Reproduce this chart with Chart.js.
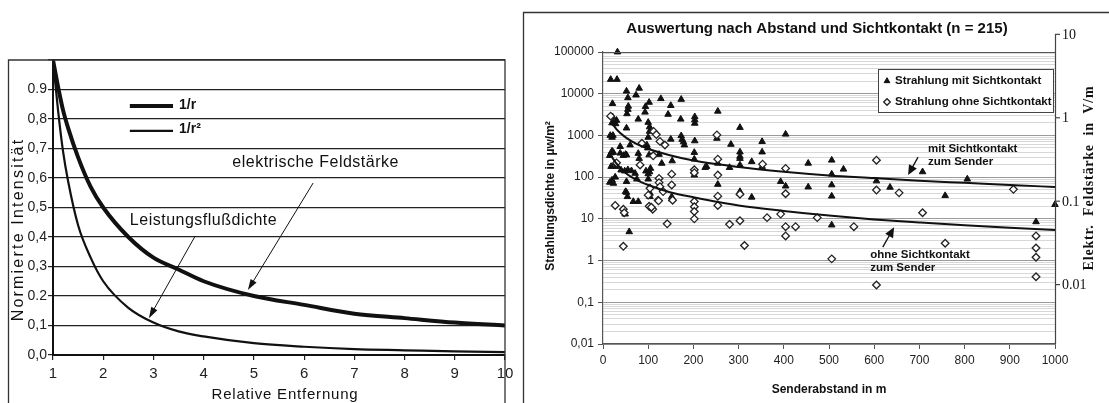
<!DOCTYPE html>
<html>
<head>
<meta charset="utf-8">
<script src="https://cdn.jsdelivr.net/npm/chart.js@4.4.1/dist/chart.umd.min.js"></script>
<style>
html, body { margin: 0; padding: 0; background: #fff; width: 1109px; height: 403px; overflow: hidden; }
canvas { position: absolute; top: 0; }
#left { left: 0; }
#right { left: 520px; }
</style>
</head>
<body>
<canvas id="left" width="520" height="403"></canvas>
<canvas id="right" width="589" height="403"></canvas>
<script>
// ---- linkes Diagramm: 1/r und 1/r² ----
const relDistance   = [1, 1.1, 1.2, 1.3, 1.5, 1.75, 2, 2.5, 3, 3.5, 4, 5, 6, 7, 8, 9, 10];
const fieldStrength = [1.0, 0.91, 0.83, 0.77, 0.67, 0.57, 0.5, 0.4, 0.33, 0.29, 0.25, 0.2, 0.17, 0.14, 0.125, 0.11, 0.1];
const powerDensity  = [1.0, 0.83, 0.69, 0.59, 0.44, 0.33, 0.25, 0.16, 0.11, 0.08, 0.063, 0.04, 0.028, 0.02, 0.016, 0.012, 0.01];
const leftXTicks  = [1, 2, 3, 4, 5, 6, 7, 8, 9, 10];
const leftYTicks  = [0, 0.1, 0.2, 0.3, 0.4, 0.5, 0.6, 0.7, 0.8, 0.9, 1.0];
const leftYLabels = ["0,0", "0,1", "0.2", "0,3", "0,4", "0,5", "0,6", "0,7", "0,8", "0.9", ""];

// ---- rechtes Diagramm: Messwerte nach Abstand ----
const mitDist = [32, 17, 31, 52, 80, 73, 55, 21, 56, 55, 53, 94, 102, 128, 173, 150, 144, 93, 78, 172,
  203, 203, 203, 21, 20, 24, 28, 52, 100, 103, 103, 22, 20, 100, 97, 99, 150, 173, 175, 178,
  180, 203, 60, 38, 23, 38, 52, 78, 80, 102, 124, 153, 202, 202, 229, 27, 29, 27, 23, 40,
  52, 63, 71, 105, 103, 130, 52, 54, 78, 104, 104, 152, 152, 202, 202, 49, 58, 254, 303, 252,
  283, 352, 404, 303, 352, 303, 303, 226, 254, 280, 303, 329, 352, 454, 506, 506, 506, 506, 254, 303,
  303, 329, 393, 404, 454, 506, 532, 605, 635, 707, 757, 806, 1000, 958, 15, 18, 20, 18, 15, 20,
  30, 45, 50, 48, 55, 50, 95, 100, 100, 75, 16, 67];
const mitValue = [100000, 22000, 22000, 11500, 13500, 9300, 8000, 5800, 5000, 4200, 3300, 4900, 6200, 7600, 7300, 5200, 3200, 3600, 2450, 2450,
  2800, 2350, 1950, 2800, 2000, 2000, 1900, 1500, 2050, 1600, 1250, 1000, 900, 900, 590, 500, 810, 980, 800, 700,
  590, 740, 590, 540, 390, 375, 340, 370, 280, 340, 350, 245, 390, 270, 180, 215, 180, 100, 71, 148,
  78, 142, 123, 162, 134, 214, 43, 34, 26, 41, 34, 34, 30, 134, 112, 13, 4.9, 3800, 1550, 850,
  610, 710, 1070, 400, 400, 315, 280, 170, 215, 170, 195, 235, 180, 215, 255, 118, 65, 35, 67, 45,
  41, 33, 78, 61, 58, 7.1, 155, 81, 57, 134, 36, 90, 22, 8.5, 330, 380, 420, 180, 75, 85,
  2300, 330, 350, 140, 150, 45, 140, 120, 90, 90, 1000, 26];

const ohneDist = [17, 112, 118, 137, 86, 252, 30, 82, 111, 124, 124, 126, 104, 100, 122, 133, 152, 152, 154, 202,
  202, 202, 202, 202, 202, 27, 45, 47, 102, 110, 142, 45, 254, 353, 404, 254, 254, 254, 303, 404,
  393, 280, 303, 363, 404, 426, 404, 474, 313, 506, 605, 605, 655, 707, 555, 908, 958, 958, 958, 958,
  757, 605, 123, 107, 126];
const ohneValue = [2900, 1250, 1050, 590, 650, 1030, 220, 196, 325, 93, 74, 59, 54, 37, 28, 45, 118, 65, 28, 150,
  128, 26, 19.5, 15, 10, 21, 17, 14, 20, 17, 7.6, 2.2, 270, 205, 162, 112, 35, 21, 39, 40,
  13, 7.4, 9, 10.7, 6.5, 6.5, 3.9, 10.7, 2.3, 1.1, 255, 49, 42, 14, 6.5, 51, 3.9, 2.0, 1.2, 0.41,
  2.6, 0.26, 27, 19, 720];

// Ausgleichskurven
const fitDist = [20, 30, 50, 75, 100, 150, 200, 300, 400, 500, 600, 700, 800, 900, 1000];
const fitMit  = [2000, 1400, 900, 620, 480, 330, 250, 175, 135, 110, 95, 82, 73, 65, 58];
const fitOhne = [300, 210, 125, 85, 65, 43, 33, 21, 15.5, 12, 9.7, 8.2, 7, 6.1, 5.4];

const distTicks     = [0, 100, 200, 300, 400, 500, 600, 700, 800, 900, 1000];
const distLabels    = ["0", "100", "200", "300", "400", "500", "600", "700", "800", "900", "1000"];
const densityTicks  = [0.01, 0.1, 1, 10, 100, 1000, 10000, 100000];
const densityLabels = ["0,01", "0,1", "1", "10", "100", "1000", "10000", "100000"];
const minorSteps    = [2, 3, 4, 5, 6, 7, 8, 9];
const fieldTicks    = [0.01, 0.1, 1, 10];
const fieldLabels   = ["0.01", "0.1", "1", "10"];
const Z0 = 377; // Feldwellenwiderstand, fuer die V/m-Achse

const SANS = '"Liberation Sans", Arial, sans-serif';
const SERIF = '"Liberation Serif", "Times New Roman", serif';

function arrow(ctx, x1, y1, x2, y2, head, half) {
    const a = Math.atan2(y2 - y1, x2 - x1);
    const c = Math.cos(a), s = Math.sin(a);
    ctx.beginPath();
    ctx.moveTo(x1, y1);
    ctx.lineTo(x2 - c * head * 0.6, y2 - s * head * 0.6);
    ctx.stroke();
    ctx.beginPath();
    ctx.moveTo(x2, y2);
    ctx.lineTo(x2 - head * c + half * s, y2 - head * s - half * c);
    ctx.lineTo(x2 - head * c - half * s, y2 - head * s + half * c);
    ctx.closePath();
    ctx.fill();
}

function labelFor(list, labels, v) {
    const i = list.findIndex(t => Math.abs(t - v) < 1e-9 * Math.max(1, Math.abs(t)));
    return i >= 0 ? labels[i] : "";
}

// ---------------- linkes Diagramm ----------------
const leftDecor = {
    id: "leftDecor",
    afterDraw(chart) {
        const { ctx, chartArea: a, scales: { x, y } } = chart;
        ctx.save();
        // Rahmen
        ctx.strokeStyle = "#333";
        ctx.lineWidth = 1.3;
        ctx.beginPath();
        ctx.moveTo(8.5, 410); ctx.lineTo(8.5, a.top); ctx.lineTo(a.right, a.top); ctx.lineTo(a.right, 410);
        ctx.stroke();

        // Legende
        ctx.strokeStyle = "#111";
        ctx.lineWidth = 4;
        ctx.beginPath(); ctx.moveTo(x.getPixelForValue(2.53), y.getPixelForValue(0.844)); ctx.lineTo(x.getPixelForValue(3.39), y.getPixelForValue(0.844)); ctx.stroke();
        ctx.lineWidth = 2.2;
        ctx.beginPath(); ctx.moveTo(x.getPixelForValue(2.53), y.getPixelForValue(0.760)); ctx.lineTo(x.getPixelForValue(3.39), y.getPixelForValue(0.760)); ctx.stroke();
        ctx.fillStyle = "#111";
        ctx.font = "bold 14px " + SANS;
        ctx.textBaseline = "middle";
        ctx.textAlign = "left";
        ctx.fillText("1/r", x.getPixelForValue(3.51), y.getPixelForValue(0.846));
        ctx.fillText("1/r²", x.getPixelForValue(3.51), y.getPixelForValue(0.765));

        // Beschriftungen mit Pfeilen
        ctx.font = "16px " + SANS;
        ctx.letterSpacing = "0.5px";
        ctx.fillText("elektrische Feldstärke", x.getPixelForValue(4.57), y.getPixelForValue(0.651));
        ctx.fillText("Leistungsflußdichte", x.getPixelForValue(2.53), y.getPixelForValue(0.454));
        ctx.letterSpacing = "0px";
        ctx.lineWidth = 1;
        arrow(ctx, x.getPixelForValue(6.18), y.getPixelForValue(0.583), x.getPixelForValue(4.88), y.getPixelForValue(0.22), 11, 3.5);
        arrow(ctx, x.getPixelForValue(3.83), y.getPixelForValue(0.403), x.getPixelForValue(2.91), y.getPixelForValue(0.125), 11, 3.5);

        // Achsentitel
        ctx.font = "15px " + SANS;
        ctx.letterSpacing = "0.8px";
        ctx.textAlign = "center";
        ctx.fillText("Relative Entfernung", (a.left + a.right) / 2 + 6, 395);
        ctx.save();
        ctx.translate(19, (a.top + a.bottom) / 2 + 22);
        ctx.rotate(-Math.PI / 2);
        ctx.font = "16px " + SANS;
        ctx.letterSpacing = "2.2px";
        ctx.fillText("Normierte Intensität", 0, 0);
        ctx.restore();
        ctx.restore();
    }
};

new Chart(document.getElementById("left"), {
    type: "line",
    data: {
        datasets: [
            {
                label: "1/r",
                data: relDistance.map((r, i) => ({ x: r, y: fieldStrength[i] })),
                borderColor: "#111",
                borderWidth: 4,
                pointRadius: 0,
                cubicInterpolationMode: "monotone"
            },
            {
                label: "1/r²",
                data: relDistance.map((r, i) => ({ x: r, y: powerDensity[i] })),
                borderColor: "#111",
                borderWidth: 2.2,
                pointRadius: 0,
                cubicInterpolationMode: "monotone"
            }
        ]
    },
    options: {
        responsive: false,
        animation: false,
        layout: { padding: { top: 60, right: 15, left: 0, bottom: 0 } },
        plugins: { legend: { display: false }, tooltip: { enabled: false } },
        scales: {
            x: {
                type: "linear",
                min: 1, max: 10,
                afterBuildTicks: s => { s.ticks = leftXTicks.map(v => ({ value: v })); },
                afterFit: s => { s.height = 48; },
                ticks: { color: "#222", font: { family: SANS, size: 15 }, padding: 5, maxRotation: 0, callback: v => String(v) },
                grid: { drawOnChartArea: false, tickLength: 5, color: "#222", lineWidth: 1.2 },
                border: { color: "#111", width: 2 }
            },
            y: {
                min: 0, max: 1,
                afterBuildTicks: s => { s.ticks = leftYTicks.map(v => ({ value: v })); },
                afterFit: s => { s.width = 53; },
                ticks: {
                    color: "#222", font: { family: SANS, size: 14 }, padding: 1,
                    callback: v => labelFor(leftYTicks, leftYLabels, v)
                },
                grid: { color: "#222", lineWidth: 1.2, tickLength: 5 },
                border: { color: "#111", width: 2 }
            }
        }
    },
    plugins: [leftDecor]
});

// ---------------- rechtes Diagramm ----------------
const majorSet = new Set(densityTicks);
const densityGrid = [];
densityTicks.forEach((d, i) => {
    densityGrid.push(d);
    if (i < densityTicks.length - 1) minorSteps.forEach(m => densityGrid.push(+(d * m).toPrecision(6)));
});

const rightDecor = {
    id: "rightDecor",
    afterDraw(chart) {
        const { ctx, chartArea: a, scales: { x, y, y2 } } = chart;
        ctx.save();
        // Rahmen
        ctx.strokeStyle = "#333";
        ctx.lineWidth = 1.3;
        ctx.beginPath();
        ctx.moveTo(3.5, 410); ctx.lineTo(3.5, 12.5); ctx.lineTo(600, 12.5);
        ctx.stroke();

        // obere Begrenzung der Zeichenflaeche
        ctx.strokeStyle = "#555";
        ctx.lineWidth = 1.2;
        ctx.beginPath(); ctx.moveTo(a.left, a.top + 0.5); ctx.lineTo(a.right, a.top + 0.5); ctx.stroke();

        // rechte Achse in V/m
        const yTop = y2.getPixelForValue(fieldTicks[fieldTicks.length - 1]);
        ctx.strokeStyle = "#444";
        ctx.beginPath(); ctx.moveTo(a.right + 0.5, yTop); ctx.lineTo(a.right + 0.5, a.bottom); ctx.stroke();
        ctx.fillStyle = "#111";
        ctx.font = "14px " + SERIF;
        ctx.textAlign = "left";
        ctx.textBaseline = "middle";
        fieldTicks.forEach((v, i) => {
            const py = y2.getPixelForValue(v);
            ctx.beginPath(); ctx.moveTo(a.right, py); ctx.lineTo(a.right + 5, py); ctx.stroke();
            ctx.fillText(fieldLabels[i], a.right + 7, py + 1);
        });

        // Titel
        ctx.font = "bold 15px " + SANS;
        ctx.textAlign = "center";
        ctx.fillText("Auswertung nach Abstand und Sichtkontakt (n = 215)", (a.left + a.right) / 2 - 12, 29);

        // Achsentitel
        ctx.font = "bold 12px " + SANS;
        ctx.fillText("Senderabstand in m", (a.left + a.right) / 2, 390);
        ctx.save();
        ctx.translate(31, 196);
        ctx.rotate(-Math.PI / 2);
        ctx.fillText("Strahlungsdichte in µw/m²", 0, 0);
        ctx.restore();
        ctx.save();
        ctx.translate(a.right + 34, 178);
        ctx.rotate(-Math.PI / 2);
        ctx.font = "bold 14px " + SERIF;
        ctx.letterSpacing = "0.8px";
        ctx.fillText("Elektr.  Feldstärke  in  V/m", 0, 0);
        ctx.restore();

        // Legende
        const lx = a.right - 177, ly = a.top + 17;
        ctx.fillStyle = "#fff";
        ctx.fillRect(lx, ly, 175, 43);
        ctx.strokeStyle = "#444";
        ctx.lineWidth = 1;
        ctx.strokeRect(lx + 0.5, ly + 0.5, 175, 43);
        ctx.font = "bold 11.5px " + SANS;
        ctx.textAlign = "left";
        const ds = chart.data.datasets;
        [0, 1].forEach(k => {
            const cy = ly + 12 + k * 21;
            ctx.fillStyle = ds[k].backgroundColor;
            ctx.strokeStyle = ds[k].borderColor;
            ctx.lineWidth = ds[k].borderWidth;
            Chart.helpers.drawPoint(ctx, { pointStyle: ds[k].pointStyle, radius: 3.3, rotation: 0, borderWidth: ds[k].borderWidth }, lx + 9, cy);
            ctx.fillStyle = "#111";
            ctx.fillText(ds[k].label, lx + 17, cy);
        });

        // Beschriftungen der Kurven
        ctx.fillStyle = "#111";
        ctx.strokeStyle = "#111";
        ctx.lineWidth = 1.3;
        ctx.fillText("mit Sichtkontakt", x.getPixelForValue(719), y.getPixelForValue(472));
        ctx.fillText("zum Sender", x.getPixelForValue(719), y.getPixelForValue(229));
        ctx.fillText("ohne Sichtkontakt", x.getPixelForValue(591), y.getPixelForValue(1.36));
        ctx.fillText("zum Sender", x.getPixelForValue(591), y.getPixelForValue(0.66));
        arrow(ctx, x.getPixelForValue(697), y.getPixelForValue(302), x.getPixelForValue(675), y.getPixelForValue(112), 10, 4.5);
        arrow(ctx, x.getPixelForValue(619), y.getPixelForValue(2.1), x.getPixelForValue(644), y.getPixelForValue(6.3), 10, 4.5);
        ctx.restore();
    }
};

new Chart(document.getElementById("right"), {
    type: "scatter",
    data: {
        datasets: [
            {
                label: "Strahlung mit Sichtkontakt",
                data: mitDist.map((d, i) => ({ x: d, y: mitValue[i] })),
                pointStyle: "triangle",
                pointRadius: 3.8,
                backgroundColor: "#111",
                borderColor: "#111",
                borderWidth: 1,
                clip: 8,
                order: 2
            },
            {
                label: "Strahlung ohne Sichtkontakt",
                data: ohneDist.map((d, i) => ({ x: d, y: ohneValue[i] })),
                pointStyle: "rectRot",
                pointRadius: 3.8,
                backgroundColor: "#fff",
                borderColor: "#222",
                borderWidth: 1.3,
                clip: 8,
                order: 1
            },
            {
                type: "line",
                label: "mit Sichtkontakt zum Sender",
                data: fitDist.map((d, i) => ({ x: d, y: fitMit[i] })),
                borderColor: "#111",
                borderWidth: 2,
                pointRadius: 0,
                cubicInterpolationMode: "monotone",
                order: 0
            },
            {
                type: "line",
                label: "ohne Sichtkontakt zum Sender",
                data: fitDist.map((d, i) => ({ x: d, y: fitOhne[i] })),
                borderColor: "#111",
                borderWidth: 2,
                pointRadius: 0,
                cubicInterpolationMode: "monotone",
                order: 0
            }
        ]
    },
    options: {
        responsive: false,
        animation: false,
        layout: { padding: { top: 52, right: 54, left: 0, bottom: 0 } },
        plugins: { legend: { display: false }, tooltip: { enabled: false } },
        scales: {
            x: {
                type: "linear",
                min: 0, max: 1000,
                afterBuildTicks: s => { s.ticks = distTicks.map(v => ({ value: v })); },
                afterFit: s => { s.height = 59; },
                ticks: {
                    color: "#222", font: { family: SANS, size: 12 }, padding: 4, maxRotation: 0,
                    callback: v => labelFor(distTicks, distLabels, v)
                },
                grid: { drawOnChartArea: false, tickLength: 5, color: "#555" },
                border: { color: "#555", width: 1.2 }
            },
            y: {
                type: "logarithmic",
                min: 0.01, max: 100000,
                afterBuildTicks: s => { s.ticks = densityGrid.map(v => ({ value: v })); },
                afterFit: s => { s.width = 83; },
                ticks: {
                    autoSkip: false,
                    color: "#222", font: { family: SANS, size: 12 }, padding: 4,
                    callback: v => labelFor(densityTicks, densityLabels, v)
                },
                grid: {
                    color: c => (c.tick && majorSet.has(c.tick.value)) ? "#9a9a9a" : "#d8d8d8",
                    tickColor: c => (c.tick && majorSet.has(c.tick.value)) ? "#555" : "rgba(0,0,0,0)",
                    tickLength: 5
                },
                border: { color: "#555", width: 1.2 }
            },
            y2: {
                type: "logarithmic",
                display: false,
                position: "right",
                min: Math.sqrt(densityTicks[0] * 1e-6 * Z0),
                max: Math.sqrt(densityTicks[densityTicks.length - 1] * 1e-6 * Z0)
            }
        }
    },
    plugins: [rightDecor]
});
</script>
</body>
</html>
